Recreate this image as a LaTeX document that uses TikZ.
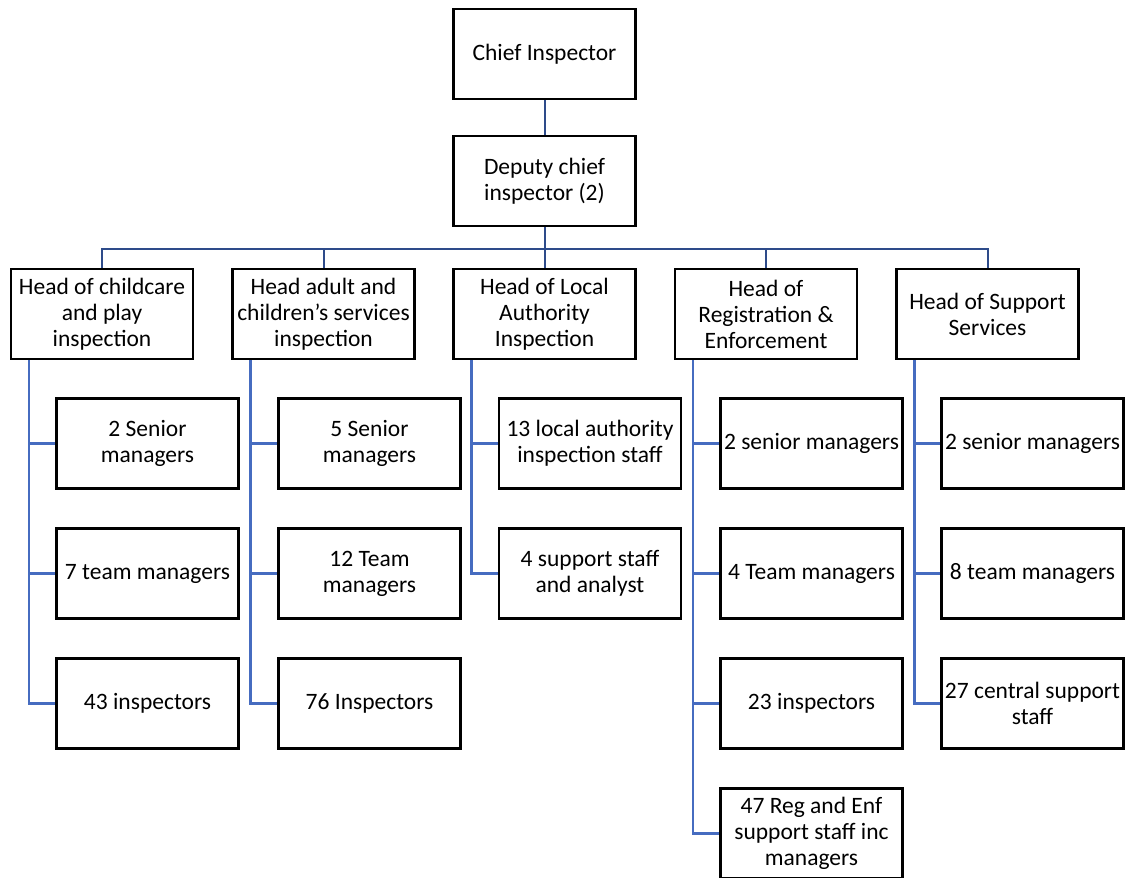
\documentclass[tikz,border=0pt]{standalone}
\usepackage{fontspec}
\setmainfont{Carlito}

\definecolor{busblue}{RGB}{46,75,138}
\definecolor{branchblue}{RGB}{70,108,192}

\tikzset{
  post/.style={draw=black, line width=2.2pt, fill=white, align=center,
    minimum width=182pt, minimum height=90pt, inner sep=2pt,
    font=\fontsize{23.5}{26}\selectfont},
  link/.style={draw=busblue, line width=2pt},
  branch/.style={draw=branchblue, line width=2.4pt},
}

\begin{document}
\begin{tikzpicture}[x=1pt,y=-1pt]
        \clip (0,0) rectangle (1131,877);

        % Top of the chart
        \node[post] (chief) at (544.5,54) {Chief Inspector};
        \node[post] (deputy) at (544.5,181) {Deputy chief\\inspector (2)};
        \coordinate (bus) at (0,249);

        % Heads
        \node[post] (hcare) at (102,314) {Head of childcare\\and play\\inspection};
        \node[post] (hadult) at (323.5,314) {Head adult and\\children’s services\\inspection};
        \node[post] (hla) at (544.5,314) {Head of Local\\Authority\\Inspection};
        \node[post] (hreg) at (766,314) {Head of\\Registration \&\\Enforcement};
        \node[post] (hsup) at (987.5,314) {Head of Support\\Services};

        % Staff under each head
        \node[post] (care1) at (147.5,443.5) {2 Senior\\managers};
        \node[post] (care2) at (147.5,573.5) {7 team managers};
        \node[post] (care3) at (147.5,703.5) {43 inspectors};

        \node[post] (adult1) at (369.5,443.5) {5 Senior\\managers};
        \node[post] (adult2) at (369.5,573.5) {12 Team\\managers};
        \node[post] (adult3) at (369.5,703.5) {76 Inspectors};

        \node[post] (la1) at (590,443.5) {13 local authority\\inspection staff};
        \node[post] (la2) at (590,573.5) {4 support staff\\and analyst};

        \node[post] (reg1) at (811.5,443.5) {2 senior managers};
        \node[post] (reg2) at (811.5,573.5) {4 Team managers};
        \node[post] (reg3) at (811.5,703.5) {23 inspectors};
        \node[post] (reg4) at (811.5,833.5) {47 Reg and Enf\\support staff inc\\managers};

        \node[post] (sup1) at (1032.5,443.5) {2 senior managers};
        \node[post] (sup2) at (1032.5,573.5) {8 team managers};
        \node[post] (sup3) at (1032.5,703.5) {27 central support\\staff};

        % Connectors to the heads
        \draw[link] (chief) -- (deputy);
        \draw[link] (deputy) -- (hla);
        \draw[link] (hcare.north) |- (hcare.north |- bus) -| (hsup.north);
        \draw[link] (hadult.north) -- (hadult.north |- bus);
        \draw[link] (hreg.north) -- (hreg.north |- bus);

        % Branch lines
        \foreach \h/\c in {hcare/care1, hcare/care2, hcare/care3,
            hadult/adult1, hadult/adult2, hadult/adult3,
            hla/la1, hla/la2,
            hreg/reg1, hreg/reg2, hreg/reg3, hreg/reg4,
            hsup/sup1, hsup/sup2, hsup/sup3} {
            \draw[branch] ([xshift=19pt]\h.south west) |- (\c.west);
        }
\end{tikzpicture}
\end{document}
